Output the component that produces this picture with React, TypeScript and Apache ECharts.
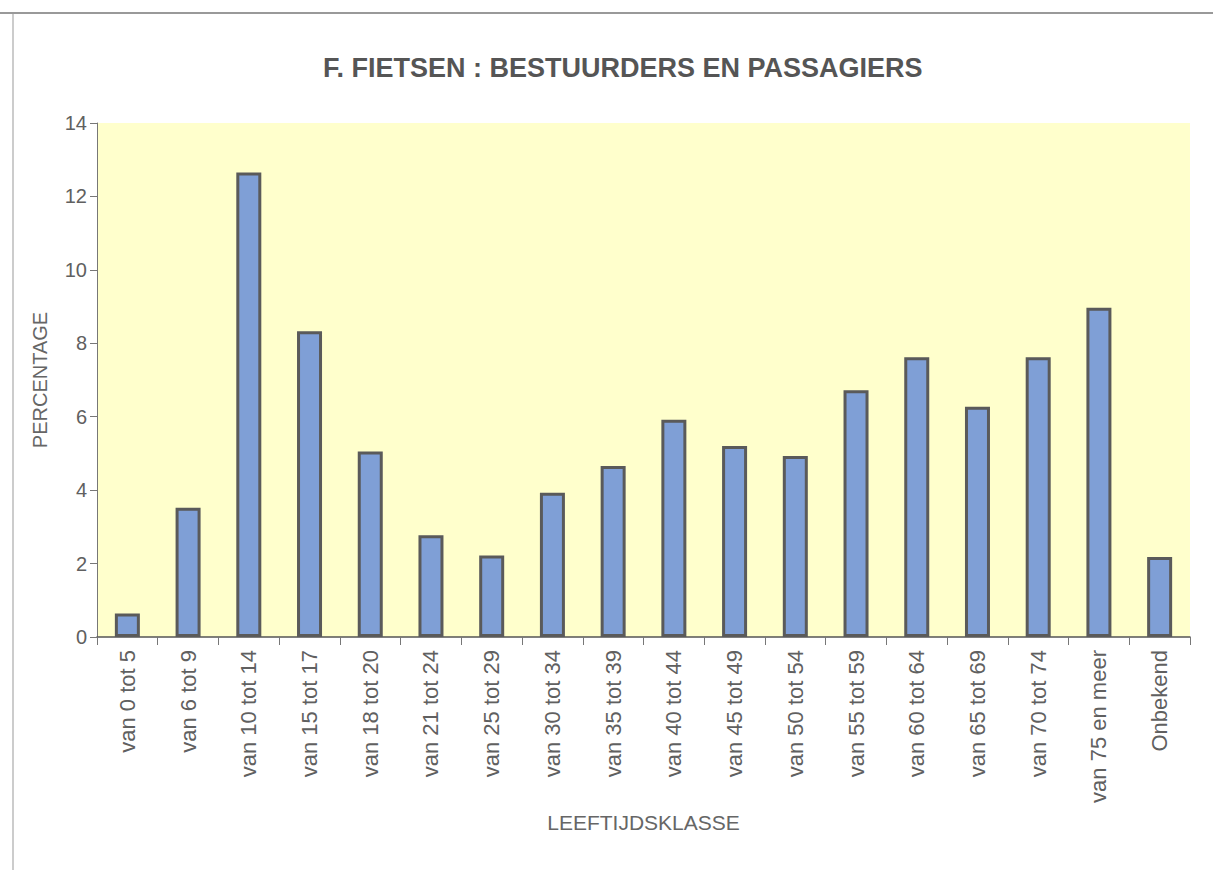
import React, { useEffect, useRef } from "react";
import * as echarts from "echarts";

const categories = [
  "van 0 tot 5", "van 6 tot 9", "van 10 tot 14", "van 15 tot 17", "van 18 tot 20",
  "van 21 tot 24", "van 25 tot 29", "van 30 tot 34", "van 35 tot 39", "van 40 tot 44",
  "van 45 tot 49", "van 50 tot 54", "van 55 tot 59", "van 60 tot 64", "van 65 tot 69",
  "van 70 tot 74", "van 75 en meer", "Onbekend",
];
const percentages = [
  0.64, 3.52, 12.65, 8.33, 5.05, 2.77, 2.22, 3.93, 4.66, 5.92,
  5.2, 4.93, 6.72, 7.62, 6.27, 7.62, 8.97, 2.18,
];
const titleText = "F. FIETSEN : BESTUURDERS EN PASSAGIERS";
const yAxisTitle = "PERCENTAGE";
const xAxisTitle = "LEEFTIJDSKLASSE";

const FONT = "'Liberation Sans', Arial, sans-serif";

export default function App() {
  const ref = useRef<HTMLDivElement>(null);
  useEffect(() => {
    if (!ref.current) return;
    const chart = echarts.init(ref.current, null, { renderer: "svg" });
    chart.setOption({
      animation: false,
      backgroundColor: "#ffffff",
      textStyle: { fontFamily: FONT },
      title: {
        text: titleText,
        left: 318,
        top: 49,
        textStyle: { fontSize: 27, fontWeight: "bold", color: "#555555", fontFamily: FONT },
      },
      graphic: [
        { type: "line", shape: { x1: 0, y1: 13, x2: 1213, y2: 13 }, style: { stroke: "#777", lineWidth: 1.5 } },
        { type: "line", shape: { x1: 13, y1: 13, x2: 13, y2: 870 }, style: { stroke: "#999", lineWidth: 1 } },
      ],
      grid: {
        left: 97,
        right: 23,
        top: 123,
        bottom: 233,
        show: true,
        backgroundColor: "#ffffcc",
        borderWidth: 0,
      },
      xAxis: {
        type: "category",
        data: categories,
        boundaryGap: true,
        name: xAxisTitle,
        nameLocation: "middle",
        nameGap: 175,
        nameTextStyle: { fontSize: 21, color: "#666666", fontFamily: FONT },
        axisLine: { show: true, lineStyle: { color: "#555555", width: 1.5 } },
        axisTick: { show: true, length: 8, interval: 0, lineStyle: { color: "#777777" } },
        axisLabel: {
          interval: 0,
          rotate: 90,
          margin: 13,
          fontSize: 22,
          color: "#606060",
          fontFamily: FONT,
        },
      },
      yAxis: {
        type: "value",
        min: 0,
        max: 14,
        interval: 2,
        name: yAxisTitle,
        nameLocation: "middle",
        nameGap: 47,
        nameTextStyle: { fontSize: 20, color: "#666666", fontFamily: FONT },
        axisLine: { show: true, lineStyle: { color: "#777777", width: 1 } },
        axisTick: { show: true, length: 7, lineStyle: { color: "#777777" } },
        splitLine: { show: false },
        axisLabel: { fontSize: 20, color: "#606060", margin: 10, fontFamily: FONT },
      },
      series: [
        {
          type: "bar",
          data: percentages,
          barWidth: 25,
          itemStyle: {
            color: "#7f9fd6",
            borderColor: "#5a5a5a",
            borderWidth: 3,
          },
        },
      ],
    });
    return () => chart.dispose();
  }, []);
  return (
    <div
      ref={ref}
      style={{ position: "absolute", left: 0, top: 0, width: 1213, height: 870 }}
    />
  );
}
